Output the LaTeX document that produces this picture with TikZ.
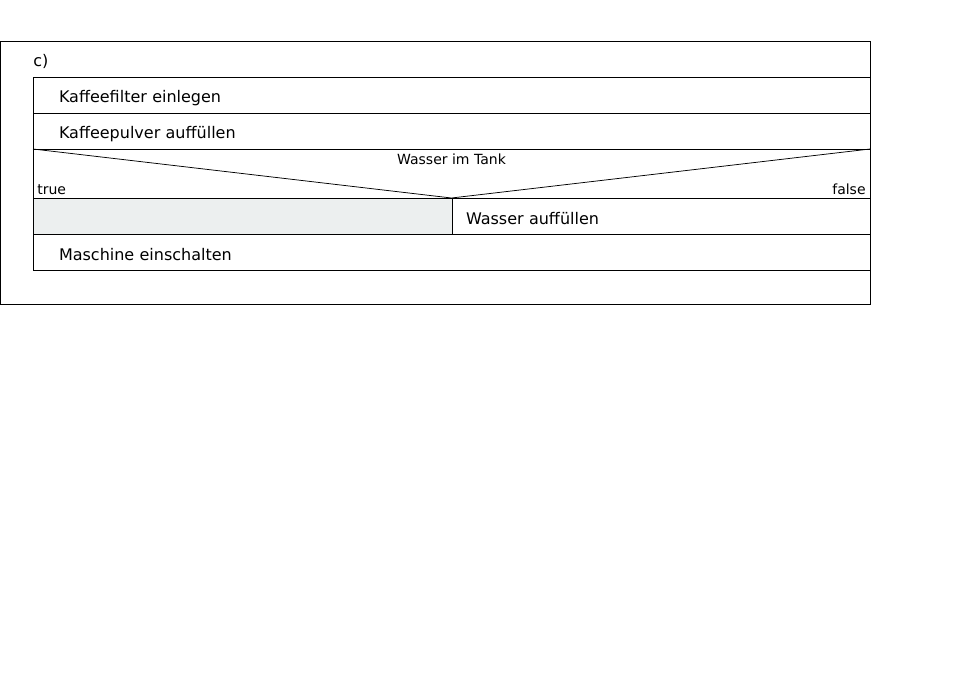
\documentclass[tikz,border=0pt]{standalone}
\usepackage{fontspec}
\setmainfont{DejaVu Sans}
\definecolor{cellgray}{RGB}{236,239,239}
\tikzset{
  box/.style={draw, rectangle, anchor=north west, outer sep=0pt},
  block/.style={box, minimum width=837pt, minimum height=36pt, inner xsep=26pt,
    text width=785pt, text height=16pt, text depth=0pt, align=left, font=\fontsize{16}{19}\selectfont},
  branch/.style={box, minimum width=418pt, minimum height=36pt, inner xsep=14pt,
    text width=390pt, text height=16pt, text depth=0pt, align=left, font=\fontsize{16}{19}\selectfont},
  small/.style={font=\fontsize{14}{16}\selectfont, inner sep=0pt}
}
\begin{document}
\begin{tikzpicture}[x=1pt,y=-1pt,line width=0.75pt]
\useasboundingbox (0,0) rectangle (964,698);
\node[box, minimum width=870pt, minimum height=263pt] (frame) at (0,41) {};
\node[anchor=west, inner sep=0pt, font=\fontsize{16}{19}\selectfont] (title) at (33,61.5) {c)};

\node[block] (filter) at (33,77) {Kaffeefilter einlegen};
\node[block] (pulver) at (filter.south west) {Kaffeepulver auffüllen};
\node[box, minimum width=837pt, minimum height=49pt] (tank) at (pulver.south west) {};
\draw (tank.north west) -- (tank.south) -- (tank.north east);
\node[small, anchor=north, yshift=-4pt] (cond) at (tank.north) {Wasser im Tank};
\node[small, anchor=base west, xshift=4pt, yshift=4pt] (true) at (tank.south west) {true};
\node[small, anchor=base east, xshift=-4pt, yshift=4pt] (false) at (tank.south east) {false};

\node[box, fill=cellgray, minimum width=419pt, minimum height=36pt] (yes) at (tank.south west) {};
\node[branch] (no) at (yes.north east) {Wasser auffüllen};
\node[block] (start) at (yes.south west) {Maschine einschalten};
\end{tikzpicture}
\end{document}
